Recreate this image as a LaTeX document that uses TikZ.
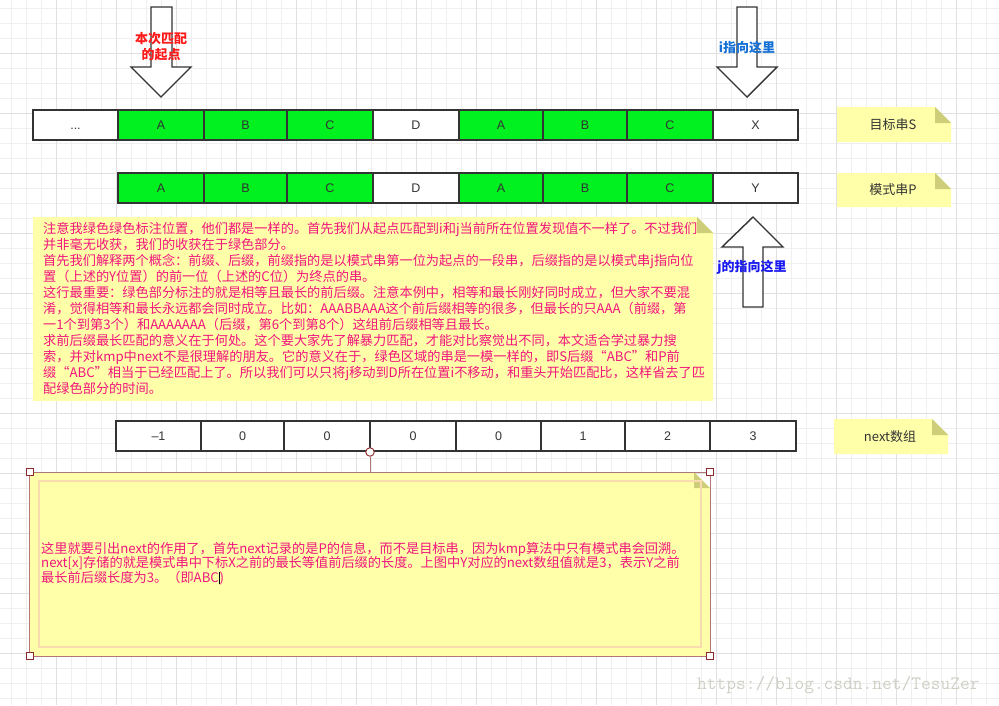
\documentclass[tikz,border=0pt]{standalone}
\usepackage{fontspec}
\setmainfont{Liberation Sans}
\newfontfamily\cjk{Noto Sans CJK SC}
\newcommand\skipdots{...}
\definecolor{gridminor}{HTML}{EFEFEF}
\definecolor{gridmajor}{HTML}{E0E0E0}
\definecolor{ink}{HTML}{333333}
\definecolor{matchgreen}{HTML}{00F020}
\definecolor{notebg}{HTML}{FFFFAA}
\definecolor{notefold}{HTML}{CDCD7A}
\definecolor{notepink}{HTML}{F2157C}
\definecolor{startred}{HTML}{FF1A1A}
\definecolor{iblue}{HTML}{1570D5}
\definecolor{jblue}{HTML}{1A1AF0}
\definecolor{editline}{HTML}{F8DCB0}
\definecolor{selline}{HTML}{B07878}
\definecolor{handle}{HTML}{8B2A2A}
\definecolor{mark}{HTML}{CFCFC6}
\tikzset{
  cell/.style={draw=ink, line width=2pt, minimum height=30pt, inner sep=0pt,
    text height=9pt, text depth=0pt, text=ink, font=\fontsize{12.5}{14}\selectfont},
  blockarrow/.style={draw=ink, fill=white, line width=1.4pt, line join=miter},
  notelabel/.style={text=ink, font=\cjk\fontsize{13}{15}\selectfont, inner sep=0pt},
  notetext/.style={text=notepink, align=left, inner sep=0pt, anchor=north west},
  arrowlabel/.style={align=center, inner sep=0pt, font=\cjk\bfseries\fontsize{13}{16}\selectfont},
  selhandle/.style={draw=handle, fill=white, line width=0.9pt, inner sep=0pt}
}
\begin{document}
\begin{tikzpicture}[x=1pt,y=-1pt]
\useasboundingbox (0,0) rectangle (999,705);
% grid
\fill[white] (0,0) rectangle (999,705);
\foreach \x in {11.7,26.7,...,999} \draw[gridminor,line width=1pt] (\x,0) -- (\x,705);
\foreach \y in {8.3,23.3,...,705} \draw[gridminor,line width=1pt] (0,\y) -- (999,\y);
\foreach \x in {56.7,116.7,...,999} \draw[gridmajor,line width=1pt] (\x,0) -- (\x,705);
\foreach \y in {53.3,113.3,...,705} \draw[gridmajor,line width=1pt] (0,\y) -- (999,\y);

% sticky notes
\foreach \xa/\ya/\xb/\yb in {837/107/951/142, 837/173/951/207, 834/419/948/454, 33/217/713/401, 29/472/710/656}{
  \fill[notebg] (\xa,\ya) -- ({\xb-16},\ya) -- (\xb,{\ya+16}) -- (\xb,\yb) -- (\xa,\yb) -- cycle;
  \fill[notefold] ({\xb-16},\ya) -- ({\xb-16},{\ya+16}) -- (\xb,{\ya+16}) -- cycle;
}

% target string S
\foreach \i/\xa/\xb/\lab/\col in {0/33/118/\skipdots/white, 1/118/204/A/matchgreen, 2/204/287/B/matchgreen,
    3/287/373/C/matchgreen, 4/373/459/D/white, 5/459/543/A/matchgreen, 6/543/627/B/matchgreen,
    7/627/713/C/matchgreen, 8/713/798/X/white}
  \node[cell, fill=\col, minimum width={\xb-\xa}] (s\i) at ({(\xa+\xb)/2},125) {\lab};
% pattern P
\foreach \i/\xa/\xb/\lab/\col in {1/118/204/A/matchgreen, 2/204/287/B/matchgreen,
    3/287/373/C/matchgreen, 4/373/459/D/white, 5/459/543/A/matchgreen, 6/543/627/B/matchgreen,
    7/627/713/C/matchgreen, 8/713/798/Y/white}
  \node[cell, fill=\col, minimum width={\xb-\xa}] (p\i) at ({(\xa+\xb)/2},188) {\lab};
% next array
\foreach \i/\xa/\xb/\lab in {1/116/201/{--1}, 2/201/284/0, 3/284/370/0, 4/370/456/0,
    5/456/541/0, 6/541/625/1, 7/625/710/2, 8/710/796/3}
  \node[cell, fill=white, minimum width={\xb-\xa}] (n\i) at ({(\xa+\xb)/2},436) {\lab};

% block arrows
\coordinate (startTip) at (161,97);
\coordinate (iTip) at (747,97);
\coordinate (jTip) at (753,217);
\draw[blockarrow] (151,7) -- (172,7) -- (172,67) -- (191,67) -- (startTip) -- (131,67) -- (151,67) -- cycle;
\draw[blockarrow] (737,7) -- (757,7) -- (757,67) -- (777,67) -- (iTip) -- (717,67) -- (737,67) -- cycle;
\draw[blockarrow] (743,307) -- (763,307) -- (763,247) -- (783,247) -- (jTip) -- (722,247) -- (743,247) -- cycle;
\node[arrowlabel, text=startred] (startlbl) at (161,47) {本次匹配\\的起点};
\node[arrowlabel, text=iblue] (ilbl) at (747,48) {i指向这里};
\node[arrowlabel, text=jblue] (jlbl) at (752,267) {j的指向这里};

% note labels
\node[notelabel] (sNote) at (893,125) {目标串S};
\node[notelabel] (pNote) at (893,190) {模式串P};
\node[notelabel] (nextNote) at (890,437) {next数组};

% explanation
\node[notetext, font=\cjk\fontsize{13.2}{16}\selectfont] (explain) at (43,222) {%
注意我绿色绿色标注位置，他们都是一样的。首先我们从起点匹配到i和j当前所在位置发现值不一样了。不过我们\\
并非毫无收获，我们的收获在于绿色部分。\\
首先我们解释两个概念：前缀、后缀，前缀指的是以模式串第一位为起点的一段串，后缀指的是以模式串j指向位\\
置（上述的Y位置）的前一位（上述的C位）为终点的串。\\
这行最重要：绿色部分标注的就是相等且最长的前后缀。注意本例中，相等和最长刚好同时成立，但大家不要混\\
淆，觉得相等和最长永远都会同时成立。比如：AAABBAAA这个前后缀相等的很多，但最长的只AAA（前缀，第\\
一1个到第3个）和AAAAAAA（后缀，第6个到第8个）这组前后缀相等且最长。\\
求前后缀最长匹配的意义在于何处。这个要大家先了解暴力匹配，才能对比察觉出不同，本文适合学过暴力搜\\
索，并对kmp中next不是很理解的朋友。它的意义在于，绿色区域的串是一模一样的，即S后缀“ABC”和P前\\
缀“ABC”相当于已经匹配上了。所以我们可以只将j移动到D所在位置i不移动，和重头开始匹配比，这样省去了匹\\
配绿色部分的时间。};

% next note, being edited
\draw[editline, line width=1.8pt] (39,481) rectangle (701,647);
\node[notetext, font=\cjk\fontsize{13.2}{14.5}\selectfont] (nextText) at (41,542) {%
这里就要引出next的作用了，首先next记录的是P的信息，而不是目标串，因为kmp算法中只有模式串会回溯。\\
next[x]存储的就是模式串中下标X之前的最长等值前后缀的长度。上图中Y对应的next数组值就是3，表示Y之前\\
最长前后缀长度为3。（即ABC\textcolor{black}{\rule[-2pt]{0.7pt}{12pt}})};

% selection frame and handles
\draw[selline, line width=0.8pt] (29.5,472) rectangle (710,656);
\coordinate (selTop) at (370,472);
\node[selhandle, circle, minimum size=8.5pt] (rot) at (370,452) {};
\draw[selline, line width=0.9pt] (rot) -- (selTop);
\foreach \n/\x/\y in {nw/29.5/472, ne/710/472, sw/29.5/656, se/710/656}
  \node[selhandle, rectangle, minimum size=7pt] (h\n) at (\x,\y) {};

% watermark
\node[text=mark, font=\ttfamily\fontsize{18.9}{20}\selectfont, anchor=west, inner sep=0pt] (wm) at (697,685) {https://blog.csdn.net/TesuZer};
\end{tikzpicture}
\end{document}
